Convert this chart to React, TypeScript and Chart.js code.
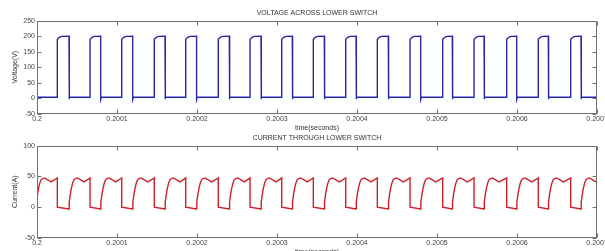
import React, { useEffect, useRef } from 'react';
import { Chart, registerables } from 'chart.js';

Chart.register(...registerables);

// ---------- data (time axis in microseconds after t = 0.2 s) ----------
const xTickValuesUs = [0, 100, 200, 300, 400, 500, 600, 700];
const xTickLabels = ['0.2', '0.2001', '0.2002', '0.2003', '0.2004', '0.2005', '0.2006', '0.2007'];

const voltageYTicks = [-50, 0, 50, 100, 150, 200, 250];
const currentYTicks = [-50, 0, 50, 100];

// switch-off edges (voltage rises) and switch-on edges (voltage falls)
const voltageRiseUs = [25.4, 66.3, 105.9, 146.6, 185.9, 226.6, 266.3, 305.9, 345.4, 385.9, 425.4, 466.3, 507.1, 546.3, 587.1, 626.6, 667.1];
const voltageFallUs = [40.0, 79.6, 119.6, 160.0, 199.5, 240.4, 280.0, 319.1, 359.1, 398.8, 439.1, 479.6, 519.1, 558.8, 599.6, 639.1, 680.0];

// voltage levels
const voltageLowV = 3;
const voltageDipV = -4;
const pulseTopOffsetUs = [0, 2.5, 5.5];
const pulseTopV = [190, 196.5, 199.5];
const pulseEndV = 200;

// current: turn-on instants and turn-off instants
const currentOnUs = [-1.0, ...voltageFallUs];
const currentOffUs = [...voltageRiseUs, 707.2];
const currentShapeOffsetUs = [0, 0.3, 1.5, 3, 4.5, 6, 8, 10.4, 18.8];
const currentShapeA = [-3, 8, 20, 31, 39, 44, 46.5, 47.5, 41];
const currentEndA = 47.5;

// ---------- build point lists ----------
function buildVoltage() {
  const pts: { x: number; y: number }[] = [{ x: 0, y: voltageLowV }];
  voltageRiseUs.forEach((r, i) => {
    const f = voltageFallUs[i];
    pts.push({ x: r, y: voltageLowV });
    pulseTopOffsetUs.forEach((o, k) => pts.push({ x: r + o, y: pulseTopV[k] }));
    pts.push({ x: f, y: pulseEndV });
    pts.push({ x: f, y: voltageDipV });
    pts.push({ x: f + 0.8, y: voltageLowV });
  });
  pts.push({ x: 700, y: voltageLowV });
  return pts;
}

function buildCurrent() {
  const pts: { x: number; y: number }[] = [];
  currentOnUs.forEach((on, i) => {
    const off = currentOffUs[i];
    currentShapeOffsetUs.forEach((o, k) => pts.push({ x: on + o, y: currentShapeA[k] }));
    pts.push({ x: off, y: currentEndA });
    pts.push({ x: off, y: 0 });
  });
  return pts;
}

const FONT = "'Liberation Sans', Arial, sans-serif";

const boxPlugin = {
  id: 'boxTicks',
  afterDatasetsDraw(chart: any) {
    const { ctx, chartArea: a, scales } = chart;
    const L = Math.round(a.left) + 0.5;
    const R = Math.round(a.right) - 0.5;
    const T = Math.round(a.top) + 0.5;
    const B = Math.round(a.bottom) - 0.5;
    ctx.save();
    ctx.strokeStyle = '#707070';
    ctx.lineWidth = 1;
    ctx.strokeRect(L, T, R - L, B - T);
    ctx.beginPath();
    scales.x.ticks.forEach((t: any) => {
      const px = Math.round(scales.x.getPixelForValue(t.value)) + 0.5;
      ctx.moveTo(px, T);
      ctx.lineTo(px, T + 4);
      ctx.moveTo(px, B);
      ctx.lineTo(px, B - 4);
    });
    scales.y.ticks.forEach((t: any) => {
      const py = Math.round(scales.y.getPixelForValue(t.value)) + 0.5;
      ctx.moveTo(L, py);
      ctx.lineTo(L + 4, py);
      ctx.moveTo(R, py);
      ctx.lineTo(R - 4, py);
    });
    ctx.stroke();
    ctx.restore();
  },
};

interface PanelCfg {
  data: { x: number; y: number }[];
  color: string;
  title: string;
  titlePad: { top: number; bottom: number };
  yLabel: string;
  yTicks: number[];
  yMin: number;
  yMax: number;
  xAxisHeight: number;
  xTitlePadBottom: number;
}

function makeChart(canvas: HTMLCanvasElement, c: PanelCfg) {
  return new Chart(canvas, {
    type: 'line',
    data: {
      datasets: [
        {
          data: c.data,
          borderColor: c.color,
          borderWidth: 1.4,
          pointRadius: 0,
          tension: 0,
          fill: false,
        },
      ],
    },
    plugins: [boxPlugin],
    options: {
      animation: false,
      responsive: false,
      devicePixelRatio: 1,
      layout: { padding: { left: 0, right: 8, top: 0, bottom: 0 } },
      plugins: {
        legend: { display: false },
        tooltip: { enabled: false },
        title: {
          display: true,
          fullSize: false,
          text: c.title,
          color: '#333',
          font: { family: FONT, size: 7, weight: 'normal' },
          padding: c.titlePad,
        },
      },
      scales: {
        x: {
          type: 'linear',
          min: 0,
          max: 700,
          grid: { display: false, drawTicks: false },
          border: { display: false },
          afterBuildTicks: (s: any) => {
            s.ticks = xTickValuesUs.map((v) => ({ value: v }));
          },
          afterFit: (s: any) => {
            s.height = c.xAxisHeight;
            s.paddingLeft = 0;
            s.paddingRight = 0;
          },
          ticks: {
            autoSkip: false,
            maxRotation: 0,
            padding: 1,
            color: '#444',
            font: { family: FONT, size: 7 },
            callback: (v: any) => {
              const i = xTickValuesUs.indexOf(Number(v));
              return i >= 0 ? xTickLabels[i] : '';
            },
          },
          title: {
            display: true,
            text: 'time(seconds)',
            color: '#333',
            font: { family: FONT, size: 7 },
            padding: { top: 0, bottom: c.xTitlePadBottom },
          },
        },
        y: {
          type: 'linear',
          min: c.yMin,
          max: c.yMax,
          grid: { display: false, drawTicks: false },
          border: { display: false },
          afterBuildTicks: (s: any) => {
            s.ticks = c.yTicks.map((v) => ({ value: v }));
          },
          afterFit: (s: any) => {
            s.width = 37;
            s.paddingTop = 0;
            s.paddingBottom = 0;
          },
          ticks: {
            autoSkip: false,
            padding: 2,
            color: '#444',
            font: { family: FONT, size: 7 },
          },
          title: {
            display: true,
            text: c.yLabel,
            color: '#333',
            font: { family: FONT, size: 7 },
            padding: { top: 10.8, bottom: 0 },
          },
        },
      },
    },
  } as any);
}

export default function App() {
  const topRef = useRef<HTMLCanvasElement>(null);
  const botRef = useRef<HTMLCanvasElement>(null);

  useEffect(() => {
    const top = makeChart(topRef.current!, {
      data: buildVoltage(),
      color: '#2626aa',
      title: 'VOLTAGE ACROSS LOWER SWITCH',
      titlePad: { top: 9.1, bottom: 3.2 },
      yLabel: 'Voltage(V)',
      yTicks: voltageYTicks,
      yMin: -50,
      yMax: 250,
      xAxisHeight: 20.4,
      xTitlePadBottom: 1.8,
    });
    const bot = makeChart(botRef.current!, {
      data: buildCurrent(),
      color: '#cf2029',
      title: 'CURRENT THROUGH LOWER SWITCH',
      titlePad: { top: 0, bottom: 3.3 },
      yLabel: 'Current(A)',
      yTicks: currentYTicks,
      yMin: -50,
      yMax: 100,
      xAxisHeight: 22.2,
      xTitlePadBottom: 3.8,
    });
    return () => {
      top.destroy();
      bot.destroy();
    };
  }, []);

  return (
    <div
      style={{
        position: 'fixed',
        left: 0,
        top: 0,
        width: 605,
        height: 251,
        overflow: 'hidden',
        background: '#fff',
      }}
    >
      <canvas ref={topRef} width={605} height={134} style={{ position: 'absolute', left: 0, top: 0, display: 'block' }} />
      <canvas ref={botRef} width={605} height={126} style={{ position: 'absolute', left: 0, top: 134, display: 'block' }} />
    </div>
  );
}
